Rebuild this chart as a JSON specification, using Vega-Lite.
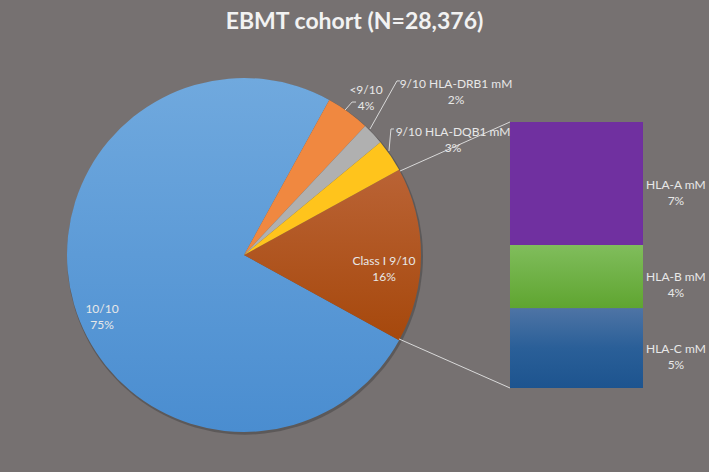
{
  "$schema": "https://vega.github.io/schema/vega-lite/v6.json",
  "width": 709,
  "height": 472,
  "padding": 0,
  "autosize": {"type": "none"},
  "background": "#767171",
  "config": {"view": {"stroke": null}},
  "title": {"text": "EBMT cohort (N=28,376)", "font": "Lato", "fontSize": 23, "fontWeight": "bold", "color": "#F2F2F2", "anchor": "middle", "frame": "group", "offset": -34},
  "datasets": {
    "pie": [
      {"category": "Class I 9/10", "value": 16, "ord": 1},
      {"category": "10/10", "value": 75, "ord": 2},
      {"category": "<9/10", "value": 4, "ord": 3},
      {"category": "9/10 HLA-DRB1 mM", "value": 2, "ord": 4},
      {"category": "9/10 HLA-DQB1 mM", "value": 3, "ord": 5}
    ],
    "bar": [
      {"category": "HLA-C mM", "value": 4.8, "ord": 1},
      {"category": "HLA-B mM", "value": 3.8, "ord": 2},
      {"category": "HLA-A mM", "value": 7.4, "ord": 3}
    ],
    "labels": [
      {"label": "10/10\n75%", "x": -8.54, "y": 4.75},
      {"label": "Class I 9/10\n16%", "x": 8.42, "y": 7.64},
      {"label": "<9/10\n4%", "x": 7.34, "y": 17.92},
      {"label": "9/10 HLA-DRB1 mM\n2%", "x": 12.75, "y": 18.29},
      {"label": "9/10 HLA-DQB1 mM\n3%", "x": 12.57, "y": 15.4},
      {"label": "HLA-A mM\n7%", "x": 25.98, "y": 12.21},
      {"label": "HLA-B mM\n4%", "x": 25.98, "y": 6.65},
      {"label": "HLA-C mM\n5%", "x": 25.98, "y": 2.35}
    ],
    "lines": [
      {"id": "top", "ord": 1, "x": 9.38, "y": 13.05},
      {"id": "top", "ord": 2, "x": 16, "y": 16},
      {"id": "bottom", "ord": 1, "x": 9.32, "y": 2.95},
      {"id": "bottom", "ord": 2, "x": 16, "y": 0},
      {"id": "lt9", "ord": 1, "x": 6.08, "y": 16.72},
      {"id": "lt9", "ord": 2, "x": 6.5, "y": 17.2},
      {"id": "lt9", "ord": 3, "x": 6.74, "y": 17.2},
      {"id": "drb1", "ord": 1, "x": 7.58, "y": 15.58},
      {"id": "drb1", "ord": 2, "x": 9.2, "y": 18.47},
      {"id": "drb1", "ord": 3, "x": 9.38, "y": 18.47},
      {"id": "dqb1", "ord": 1, "x": 8.72, "y": 14.26},
      {"id": "dqb1", "ord": 2, "x": 8.84, "y": 15.58},
      {"id": "dqb1", "ord": 3, "x": 9.02, "y": 15.58}
    ]
  },
  "layer": [
    {
      "data": {"values": [{"shadow": 100}]},
      "mark": {"type": "arc", "outerRadius": 178, "fill": "#3F3C3C", "opacity": 0.45},
      "encoding": {
        "theta": {"field": "shadow", "type": "quantitative", "scale": {"domain": [0, 100], "range": [1.06814, 7.35133]}},
        "x": {"datum": 0.06, "type": "quantitative", "scale": {"domain": [-14.677, 27.97], "nice": false, "zero": false}, "axis": null},
        "y": {"datum": 7.9, "type": "quantitative", "scale": {"domain": [-5.053, 23.338], "nice": false, "zero": false}, "axis": null}
      }
    },
    {
      "data": {"name": "pie"},
      "transform": [{"stack": "value", "groupby": [], "sort": [{"field": "ord", "order": "ascending"}], "as": ["t0", "t1"]}],
      "encoding": {
        "theta": {"field": "t0", "type": "quantitative", "scale": {"domain": [0, 100], "range": [1.06814, 7.35133]}},
        "theta2": {"field": "t1"},
        "x": {"datum": 0, "type": "quantitative", "scale": {"domain": [-14.677, 27.97], "nice": false, "zero": false}, "axis": null},
        "y": {"datum": 8, "type": "quantitative", "scale": {"domain": [-5.053, 23.338], "nice": false, "zero": false}, "axis": null}
      },
      "layer": [
        {
          "transform": [{"filter": "datum.category === '10/10'"}],
          "mark": {"type": "arc", "outerRadius": 177, "fill": {"gradient": "linear", "x1": 0, "y1": 0, "x2": 0, "y2": 1, "stops": [{"offset": 0, "color": "#70A9DE"}, {"offset": 1, "color": "#4A8DD0"}]}}
        },
        {
          "transform": [{"filter": "datum.category === 'Class I 9/10'"}],
          "mark": {"type": "arc", "outerRadius": 177, "fill": {"gradient": "linear", "x1": 0, "y1": 0, "x2": 0, "y2": 1, "stops": [{"offset": 0, "color": "#BA6335"}, {"offset": 1, "color": "#A6480C"}]}}
        },
        {
          "transform": [{"filter": "datum.category === '<9/10'"}],
          "mark": {"type": "arc", "outerRadius": 177, "fill": "#F08840"}
        },
        {
          "transform": [{"filter": "datum.category === '9/10 HLA-DRB1 mM'"}],
          "mark": {"type": "arc", "outerRadius": 177, "fill": "#B0B0B0"}
        },
        {
          "transform": [{"filter": "datum.category === '9/10 HLA-DQB1 mM'"}],
          "mark": {"type": "arc", "outerRadius": 177, "fill": "#FFC41C"}
        }
      ]
    },
    {
      "data": {"name": "bar"},
      "transform": [{"stack": "value", "groupby": [], "sort": [{"field": "ord", "order": "ascending"}], "as": ["y0", "y1"]}],
      "encoding": {
        "x": {"datum": 16, "type": "quantitative", "scale": {"domain": [-14.677, 27.97], "nice": false, "zero": false}, "axis": null},
        "x2": {"datum": 24},
        "y": {"field": "y0", "type": "quantitative", "scale": {"domain": [-5.053, 23.338], "nice": false, "zero": false}, "axis": null},
        "y2": {"field": "y1"}
      },
      "layer": [
        {
          "transform": [{"filter": "datum.category === 'HLA-A mM'"}],
          "mark": {"type": "rect", "fill": "#7030A0"}
        },
        {
          "transform": [{"filter": "datum.category === 'HLA-B mM'"}],
          "mark": {"type": "rect", "fill": {"gradient": "linear", "x1": 0, "y1": 0, "x2": 0, "y2": 1, "stops": [{"offset": 0, "color": "#80BD5C"}, {"offset": 1, "color": "#5FA530"}]}}
        },
        {
          "transform": [{"filter": "datum.category === 'HLA-C mM'"}],
          "mark": {"type": "rect", "fill": {"gradient": "linear", "x1": 0, "y1": 0, "x2": 0, "y2": 1, "stops": [{"offset": 0, "color": "#4E74A5"}, {"offset": 0.5, "color": "#2A5F98"}, {"offset": 1, "color": "#1D548F"}]}}
        }
      ]
    },
    {
      "data": {"name": "lines"},
      "mark": {"type": "line", "color": "#D9D9D9", "strokeWidth": 1},
      "encoding": {
        "x": {"field": "x", "type": "quantitative", "scale": {"domain": [-14.677, 27.97], "nice": false, "zero": false}, "axis": null},
        "y": {"field": "y", "type": "quantitative", "scale": {"domain": [-5.053, 23.338], "nice": false, "zero": false}, "axis": null},
        "detail": {"field": "id", "type": "nominal"},
        "order": {"field": "ord", "type": "quantitative"}
      }
    },
    {
      "data": {"name": "labels"},
      "mark": {"type": "text", "font": "Lato", "fontSize": 12, "lineHeight": 16, "lineBreak": "\n", "align": "center", "baseline": "middle", "color": "#E8E8E8"},
      "encoding": {
        "x": {"field": "x", "type": "quantitative", "scale": {"domain": [-14.677, 27.97], "nice": false, "zero": false}, "axis": null},
        "y": {"field": "y", "type": "quantitative", "scale": {"domain": [-5.053, 23.338], "nice": false, "zero": false}, "axis": null},
        "text": {"field": "label", "type": "nominal"}
      }
    }
  ]
}
